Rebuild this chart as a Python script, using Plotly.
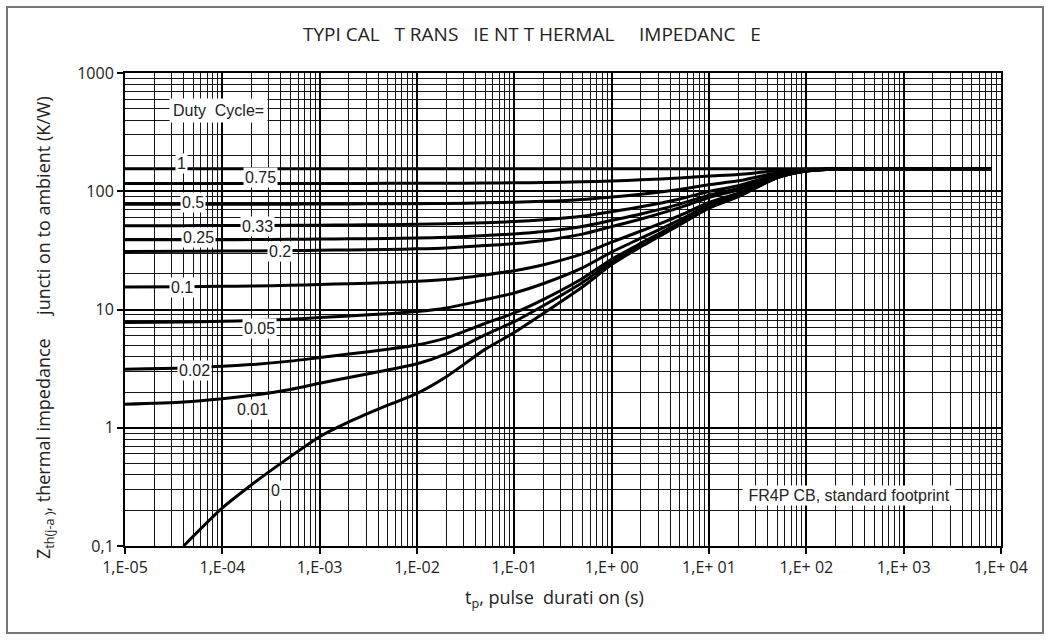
import plotly.graph_objects as go

# ---------------- data ----------------
tp = [1e-5, 4e-5, 1e-4, 2e-4, 5e-4, 1e-3, 2e-3, 5e-3, 1e-2, 2e-2, 5e-2,
      0.1, 0.2, 0.5, 1, 2, 5, 10, 20, 50, 100, 200, 500, 8000]

z_d100 = [155, 155, 155, 155, 155, 155, 155, 155, 155, 155, 155, 155,
          155, 155, 155, 155, 155, 155, 155, 155, 155, 155, 155, 155]
z_d075 = [116.3, 116.3, 116.3, 116.3, 116.4, 116.5, 116.5, 116.6, 116.7, 116.9, 117.4, 117.9,
          118.6, 120.1, 122.3, 124.8, 129.3, 134.3, 138.8, 148.8, 153.3, 154.8, 155, 155]
z_d050 = [77.5, 77.6, 77.6, 77.7, 77.8, 77.9, 78.1, 78.3, 78.5, 78.9, 79.8, 80.7,
          82.2, 85.3, 89.5, 94.5, 103.5, 113.5, 122.5, 142.5, 151.5, 154.5, 155, 155]
z_d033 = [51.2, 51.2, 51.3, 51.4, 51.5, 51.7, 51.9, 52.2, 52.5, 53.0, 54.2, 55.4,
          57.4, 61.5, 67.2, 73.9, 86.0, 99.4, 111.5, 138.3, 150.3, 154.3, 155, 155]
z_d025 = [38.8, 38.8, 38.9, 39.0, 39.2, 39.4, 39.6, 39.9, 40.2, 40.8, 42.2, 43.6,
          45.7, 50.4, 56.8, 64.3, 77.8, 92.8, 106.3, 136.3, 149.8, 154.3, 155, 155]
z_d020 = [31.0, 31.1, 31.2, 31.3, 31.5, 31.7, 31.9, 32.2, 32.6, 33.2, 34.7, 36.1,
          38.4, 43.4, 50.2, 58.2, 72.6, 88.6, 103.0, 135.0, 149.4, 154.2, 155, 155]
z_d010 = [15.5, 15.6, 15.7, 15.8, 16.0, 16.3, 16.5, 16.9, 17.3, 17.9, 19.6, 21.3,
          23.9, 29.5, 37.1, 46.1, 62.3, 80.3, 96.5, 132.5, 148.7, 154.1, 155, 155]
z_d005 = [7.78, 7.85, 7.95, 8.06, 8.29, 8.55, 8.81, 9.22, 9.60, 10.3, 12.1, 13.8,
          16.6, 22.5, 30.6, 40.1, 57.2, 76.2, 93.3, 131.3, 148.4, 154.1, 155, 155]
z_d002 = [3.13, 3.20, 3.31, 3.42, 3.66, 3.92, 4.20, 4.62, 5.01, 5.75, 7.61, 9.37,
          12.2, 18.3, 26.6, 36.4, 54.1, 73.7, 91.3, 130.5, 148.1, 154.0, 155, 155]
z_d001 = [1.58, 1.65, 1.76, 1.88, 2.11, 2.38, 2.66, 3.08, 3.48, 4.22, 6.10, 7.89,
          10.8, 16.9, 25.3, 35.2, 53.0, 72.8, 90.7, 130.3, 148.1, 154.0, 155, 155]

tp_single = [4e-5, 1e-4, 2e-4, 5e-4, 1e-3, 2e-3, 5e-3, 1e-2, 2e-2, 5e-2,
             0.1, 0.2, 0.5, 1, 2, 5, 10, 20, 50, 100, 200, 500, 8000]
z_single = [0.10, 0.21, 0.33, 0.57, 0.84, 1.12, 1.55, 1.95, 2.7, 4.6,
            6.4, 9.3, 15.5, 24, 34, 52, 72, 90, 130, 148, 154, 155, 155]

duty_labels = ["1", "0.75", "0.5", "0.33", "0.25", "0.2", "0.1", "0.05", "0.02", "0.01", "0"]

x_tickvals = [1e-5, 1e-4, 1e-3, 1e-2, 1e-1, 1, 10, 100, 1000, 10000]
x_ticktext = ["1,E-05", "1,E-04", "1,E-03", "1,E-02", "1,E-01",
              "1,E+ 00", "1,E+ 01", "1,E+ 02", "1,E+ 03", "1,E+ 04"]
y_tickvals = [0.1, 1, 10, 100, 1000]
y_ticktext = ["0,1", "1", "10", "100", "1000"]

# ---------------- figure ----------------
W, H = 1051, 641
L, R, T, B = 125, 50, 73, 95
PW, PH = W - L - R, H - T - B


def px(x):
    return (x - L) / PW


def py(y):
    return (H - B - y) / PH


fig = go.Figure()
series = [(tp, z_d100), (tp, z_d075), (tp, z_d050), (tp, z_d033), (tp, z_d025),
          (tp, z_d020), (tp, z_d010), (tp, z_d005), (tp, z_d002), (tp, z_d001),
          (tp_single, z_single)]
for (xs, ys), lab in zip(series, duty_labels):
    fig.add_trace(go.Scatter(x=xs, y=ys, mode="lines", name=lab,
                             line=dict(color="black", width=3, shape="spline", smoothing=0.7),
                             showlegend=False, hoverinfo="skip"))

minor_x = [k * 10.0 ** e for e in range(-5, 4) for k in range(2, 10)]
minor_y = [k * 10.0 ** e for e in range(-1, 3) for k in range(2, 10)]

axis_common = dict(type="log", showgrid=True, gridcolor="black", gridwidth=2,
                   showline=True, linecolor="black", linewidth=2, mirror=True,
                   ticks="outside", ticklen=6, tickwidth=1.5, tickcolor="black",
                   zeroline=False, tickmode="array",
                   tickfont=dict(family="Open Sans, Liberation Sans, sans-serif", size=16, color="#222"))

fig.update_layout(
    width=W, height=H,
    margin=dict(l=L, r=R, t=T, b=B, pad=0),
    paper_bgcolor="white", plot_bgcolor="white",
    xaxis=dict(range=[-5, 4], tickvals=x_tickvals, ticktext=x_ticktext,
               minor=dict(tickmode="array", tickvals=minor_x, showgrid=True,
                          gridcolor="#141414", gridwidth=1, ticks=""),
               **axis_common),
    yaxis=dict(range=[-1, 3], tickvals=y_tickvals, ticktext=y_ticktext,
               minor=dict(tickmode="array", tickvals=minor_y, showgrid=True,
                          gridcolor="#141414", gridwidth=1, ticks=""),
               **axis_common),
)

lab_font = dict(family="Liberation Sans, Arial, sans-serif", size=16, color="#222")
label_pos = [(181, 163), (260, 177), (193, 202), (257, 226), (198, 238), (280, 251),
             (182, 287), (259, 328), (194, 370), (252, 409), (275, 490)]
ann = []
for lab, (ax_, ay_) in zip(duty_labels, label_pos):
    ann.append(dict(x=px(ax_), y=py(ay_), xref="paper", yref="paper", text=lab,
                    xanchor="center", yanchor="middle",
                    showarrow=False, bgcolor="white", borderpad=1, font=lab_font))
ann.append(dict(x=px(218), y=py(110), xref="paper", yref="paper", text="Duty\u00a0 Cycle=",
                xanchor="center", yanchor="middle",
                showarrow=False, bgcolor="white", borderpad=3, font=lab_font))
ann.append(dict(x=px(849), y=py(495), xref="paper", yref="paper",
                text="\u00a0FR4P CB, standard footprint\u00a0",
                xanchor="center", yanchor="middle",
                showarrow=False, bgcolor="white", borderpad=1, font=lab_font))

txt_font = dict(family="Open Sans, Liberation Sans, sans-serif", color="#222")
ann.append(dict(x=px(532), y=py(34), xref="paper", yref="paper",
                xanchor="center", yanchor="middle",
                text="TYPI CAL\u00a0\u00a0 T RANS\u00a0\u00a0 IE NT T HERMAL\u00a0\u00a0\u00a0\u00a0 IMPEDANC\u00a0\u00a0 E",
                showarrow=False, font=dict(size=19, **txt_font)))
ann.append(dict(x=px(554), y=py(598), xref="paper", yref="paper",
                xanchor="center", yanchor="middle",
                text="t<sub>p</sub>, pulse\u00a0 durati on (s)",
                showarrow=False, font=dict(size=18, **txt_font)))
ann.append(dict(x=px(44), y=py(328), xref="paper", yref="paper", textangle=-90,
                xanchor="center", yanchor="middle",
                text="Z<sub>th(j-a )</sub>, thermal impedance\u00a0\u00a0\u00a0\u00a0 juncti on to ambient (K/W)",
                showarrow=False, font=dict(size=18, **txt_font)))
fig.update_layout(annotations=ann)

fig.add_shape(type="rect", xref="paper", yref="paper",
              x0=px(7), x1=px(1043), y0=py(633), y1=py(7),
              line=dict(color="#777", width=2), fillcolor="rgba(0,0,0,0)", layer="below")

fig.write_html("out.html")
